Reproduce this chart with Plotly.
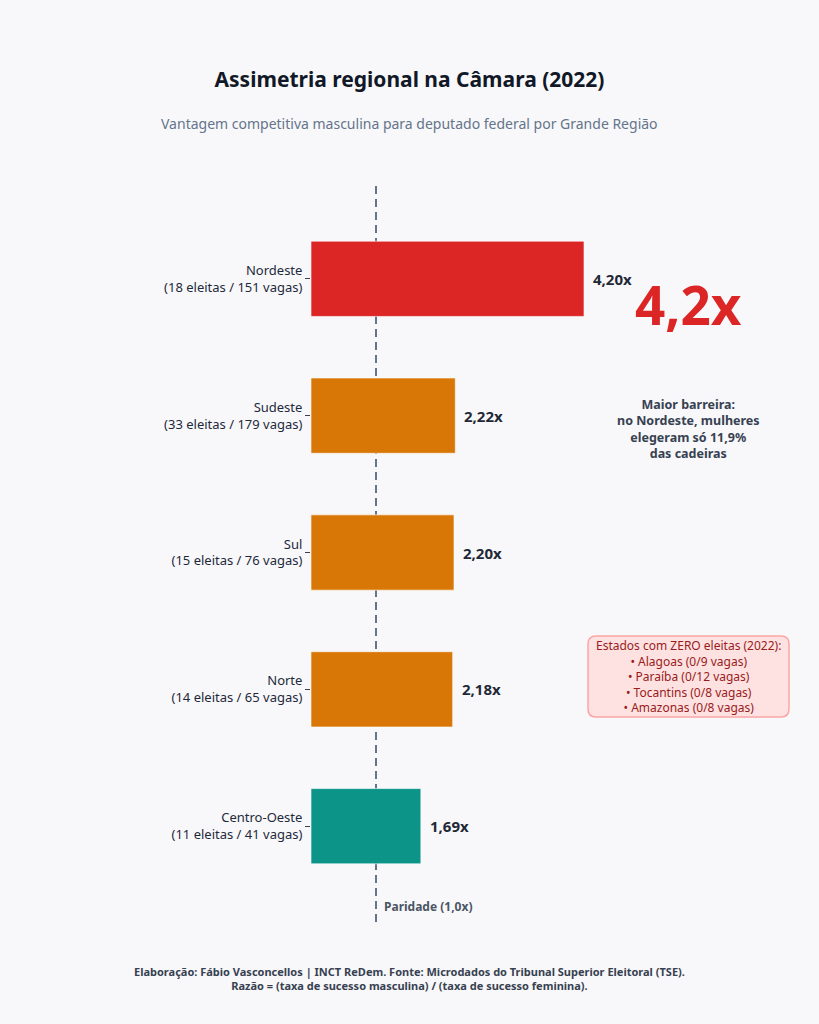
import plotly.graph_objects as go

regioes = ["Nordeste", "Sudeste", "Sul", "Norte", "Centro-Oeste"]
eleitas = [18, 33, 15, 14, 11]
vagas = [151, 179, 76, 65, 41]
razao = [4.20, 2.22, 2.20, 2.18, 1.69]
valor_txt = ["4,20x", "2,22x", "2,20x", "2,18x", "1,69x"]
cores = ["#dc2626", "#d97706", "#d97706", "#d97706", "#0d9488"]

estados_zero = ["Alagoas (0/9 vagas)", "Paraíba (0/12 vagas)",
                "Tocantins (0/8 vagas)", "Amazonas (0/8 vagas)"]

FONTE = "Noto Sans, Open Sans, sans-serif"
FUNDO = "#f8f8fa"

W, H = 819, 1024
ml, mr, mt, mb = 311, 53, 183, 102
plot_w = W - ml - mr
plot_h = H - mt - mb


def px_x(pix):
    return (pix - ml) / plot_w


def px_y(pix):
    return (H - mb - pix) / plot_h


rotulos = [f"{r}<br>({e} eleitas / {v} vagas)" for r, e, v in zip(regioes, eleitas, vagas)]

fig = go.Figure(go.Bar(
    y=rotulos, x=razao, orientation="h",
    marker=dict(color=cores, line=dict(color="rgba(255,255,255,0.6)", width=1)),
    hoverinfo="skip",
))

# rótulos de valor
for rot, txt, v in zip(rotulos, valor_txt, razao):
    fig.add_annotation(x=v, y=rot, text=f"<b>{txt}</b>", showarrow=False,
                       xanchor="left", xshift=7,
                       font=dict(family=FONTE, size=15, color="#1f2937"))

# linha de paridade
fig.add_shape(type="line", x0=1, x1=1, xref="x", yref="paper", y0=0, y1=1,
              line=dict(color="#64748b", width=2, dash="8px,5px"), layer="below")
fig.add_annotation(x=1, y=4.59, xref="x", yref="y", text="<b>Paridade (1,0x)</b>",
                   showarrow=False, xanchor="left", xshift=6,
                   font=dict(family=FONTE, size=12, color="#4b5563"))

# destaque
cx = px_x(688)
fig.add_annotation(x=cx, xref="paper", y=px_y(304), yref="paper", xanchor="center",
                   yanchor="middle", text="<b>4,2x</b>", showarrow=False,
                   font=dict(family=FONTE, size=53, color="#dc2626"))
fig.add_annotation(x=cx, xref="paper", y=px_y(429), yref="paper", xanchor="center",
                   yanchor="middle",
                   text="<b>Maior barreira:<br>no Nordeste, mulheres<br>elegeram só 11,9%<br>das cadeiras</b>",
                   showarrow=False, align="center",
                   font=dict(family=FONTE, size=12.5, color="#374151"))

# caixa arredondada
x0, x1, y0, y1, r = 588, 789, 636, 717, 8
rx, ry = r / plot_w, r / plot_h
X0, X1, Y0, Y1 = px_x(x0), px_x(x1), px_y(y1), px_y(y0)
caminho = (f"M {X0+rx},{Y0} L {X1-rx},{Y0} Q {X1},{Y0} {X1},{Y0+ry} "
           f"L {X1},{Y1-ry} Q {X1},{Y1} {X1-rx},{Y1} L {X0+rx},{Y1} "
           f"Q {X0},{Y1} {X0},{Y1-ry} L {X0},{Y0+ry} Q {X0},{Y0} {X0+rx},{Y0} Z")
fig.add_shape(type="path", path=caminho, xref="paper", yref="paper",
              fillcolor="#fee2e2", line=dict(color="#fca5a5", width=1.5))
fig.add_annotation(x=cx, xref="paper", y=px_y(676), yref="paper", xanchor="center",
                   yanchor="middle",
                   text="Estados com ZERO eleitas (2022):<br>" + "<br>".join("• " + s for s in estados_zero),
                   showarrow=False, align="center",
                   font=dict(family=FONTE, size=12, color="#991b1b"))

# subtítulo e rodapé
fig.add_annotation(x=px_x(W / 2), xref="paper", y=px_y(123), yref="paper",
                   xanchor="center", yanchor="middle", showarrow=False,
                   text="Vantagem competitiva masculina para deputado federal por Grande Região",
                   font=dict(family=FONTE, size=14, color="#64748b"))
fig.add_annotation(x=px_x(W / 2), xref="paper", y=px_y(978), yref="paper",
                   xanchor="center", yanchor="middle", showarrow=False, align="center",
                   text="<b>Elaboração: Fábio Vasconcellos | INCT ReDem. Fonte: Microdados do Tribunal Superior Eleitoral (TSE).<br>Razão = (taxa de sucesso masculina) / (taxa de sucesso feminina).</b>",
                   font=dict(family=FONTE, size=11, color="#374151"))

fig.update_layout(
    width=W, height=H,
    margin=dict(l=ml, r=mr, t=mt, b=mb),
    paper_bgcolor=FUNDO, plot_bgcolor=FUNDO,
    showlegend=False, bargap=0.45,
    font=dict(family=FONTE, color="#1f2937"),
    title=dict(text="<b>Assimetria regional na Câmara (2022)</b>",
               x=0.5, xanchor="center", y=1 - 80 / H, yanchor="middle",
               font=dict(family=FONTE, size=21, color="#111827")),
    xaxis=dict(range=[0, 7], visible=False, fixedrange=True),
    yaxis=dict(autorange=False, range=[4.7, -0.7], categoryorder="array", categoryarray=rotulos,
               ticks="outside", ticklen=5, tickcolor="#374151", showgrid=False, zeroline=False,
               showline=False, tickfont=dict(family=FONTE, size=13, color="#1e293b")),
)

fig.write_html("out.html", config={"displayModeBar": False},
               post_script="document.body.style.margin='0';document.body.style.background='" + FUNDO + "';")
